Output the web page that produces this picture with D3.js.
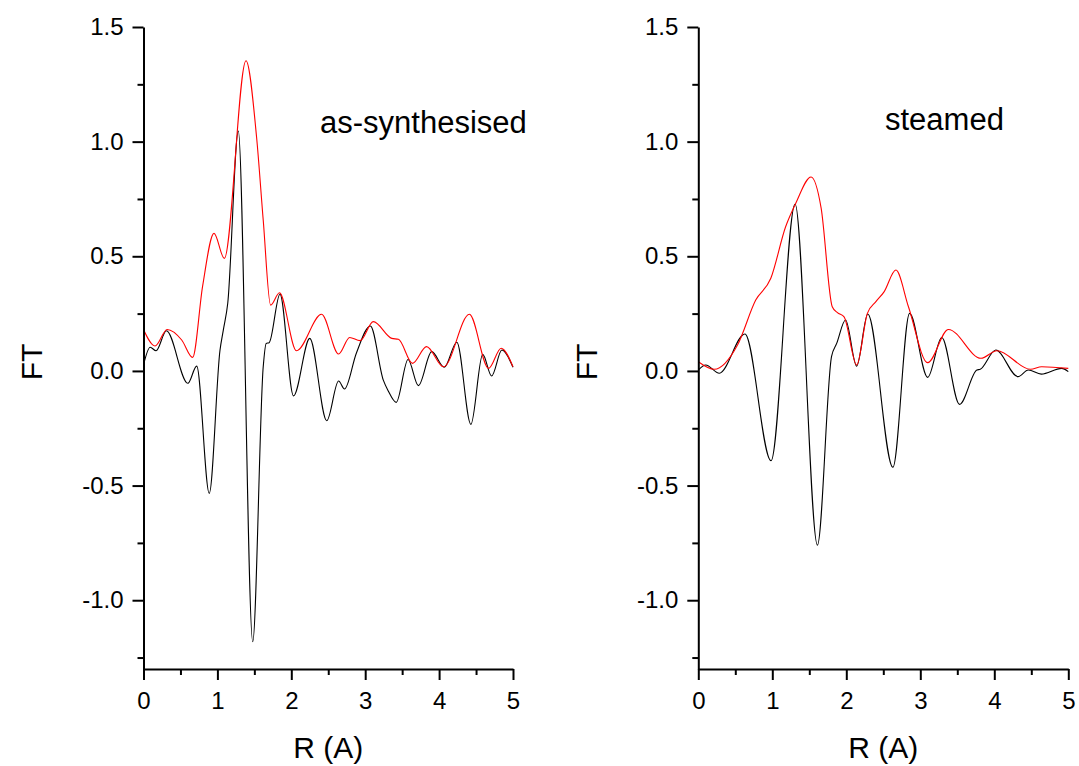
<!DOCTYPE html>
<html><head><meta charset="utf-8">
<script src="https://cdn.jsdelivr.net/npm/d3@7"></script>
<style>
body{margin:0;background:#fff}
text{font-family:"Liberation Sans",Arial,sans-serif;fill:#000}
</style>
</head><body>
<svg id="chart" width="1079" height="766"></svg>
<script>
// ---- tick values ----
const xTicks = [0, 1, 2, 3, 4, 5];
const xMinorTicks = [0.5, 1.5, 2.5, 3.5, 4.5];
const yTicks = [-1.0, -0.5, 0.0, 0.5, 1.0, 1.5];
const yMinorTicks = [-1.25, -0.75, -0.25, 0.25, 0.75, 1.25];
const panelTitles = ["as-synthesised", "steamed"];
const xLabel = "R (A)";
const yLabel = "FT";

// ---- as-synthesised: black (real part) ----
const asBlackR = [0, 0.09, 0.17, 0.31, 0.60, 0.72, 0.89, 1.035, 1.08, 1.14, 1.283, 1.478, 1.62, 1.66, 1.70, 1.847, 2.03, 2.25, 2.48, 2.64, 2.72, 2.88, 3.07, 3.245, 3.31, 3.42, 3.58, 3.72, 3.90, 4.07, 4.24, 4.43, 4.59, 4.71, 4.85, 5.0];
const asBlackFT = [0.026, 0.103, 0.088, 0.175, -0.054, 0.021, -0.534, 0.09, 0.178, 0.295, 1.046, -1.181, 0.018, 0.12, 0.123, 0.335, -0.109, 0.142, -0.217, -0.044, -0.079, 0.077, 0.196, -0.04, -0.086, -0.137, 0.05, -0.064, 0.084, 0.016, 0.125, -0.233, 0.072, -0.022, 0.091, 0.016];
// ---- as-synthesised: red (magnitude) ----
const asRedR = [0, 0.156, 0.32, 0.517, 0.665, 0.80, 0.954, 1.094, 1.387, 1.53, 1.62, 1.72, 1.84, 2.07, 2.41, 2.64, 2.79, 2.93, 3.11, 3.36, 3.45, 3.64, 3.83, 4.06, 4.41, 4.67, 4.84, 5.0];
const asRedFT = [0.181, 0.109, 0.181, 0.135, 0.059, 0.37, 0.600, 0.491, 1.353, 1.02, 0.658, 0.287, 0.341, 0.088, 0.247, 0.074, 0.146, 0.132, 0.215, 0.142, 0.138, 0.033, 0.106, 0.018, 0.247, 0.011, 0.099, 0.018];

// ---- steamed: black ----
const stBlackR = [0, 0.1, 0.284, 0.63, 0.983, 1.308, 1.61, 1.80, 1.87, 1.99, 2.14, 2.29, 2.63, 2.855, 3.10, 3.29, 3.53, 3.765, 3.81, 4.02, 4.32, 4.46, 4.635, 4.91, 5.0];
const stBlackFT = [0.004, 0.026, -0.01, 0.161, -0.392, 0.728, -0.76, 0.062, 0.12, 0.222, 0.021, 0.248, -0.42, 0.251, -0.028, 0.146, -0.146, 0.004, 0.007, 0.091, -0.025, 0.004, -0.014, 0.011, -0.003];
// ---- steamed: red ----
const stRedR = [0, 0.216, 0.53, 0.776, 0.98, 1.18, 1.317, 1.524, 1.66, 1.81, 1.88, 1.97, 2.14, 2.285, 2.40, 2.51, 2.67, 2.84, 3.10, 3.38, 3.82, 4.035, 4.49, 4.64, 5.0];
const stRedFT = [0.04, 0.007, 0.113, 0.309, 0.404, 0.629, 0.731, 0.846, 0.71, 0.28, 0.254, 0.236, 0.026, 0.251, 0.302, 0.345, 0.44, 0.28, 0.036, 0.181, 0.055, 0.088, 0.007, 0.018, 0.011];

const series = [
  [ {r: asBlackR, v: asBlackFT, color: "#000000"}, {r: asRedR, v: asRedFT, color: "#ff0000"} ],
  [ {r: stBlackR, v: stBlackFT, color: "#000000"}, {r: stRedR, v: stRedFT, color: "#ff0000"} ]
];

// ---- layout ----
const panels = [
  {left: 143.5, right: 513, ylabX: 31, titleX: 320, titleY: 133},
  {left: 698.3, right: 1068.3, ylabX: 586, titleX: 885, titleY: 130}
];
const plotTop = 27, plotBottom = 669;
const yFmt = d => d3.format(".1f")(d).replace("\u2212", "-");

const svg = d3.select("#chart");
svg.append("rect").attr("width", 1079).attr("height", 766).attr("fill", "#fff");

panels.forEach((p, i) => {
  const x = d3.scaleLinear().domain([0, 5]).range([p.left, p.right]);
  const y = d3.scaleLinear().domain([-1.3, 1.5]).range([plotBottom, plotTop]);
  const g = svg.append("g");

  // curves
  series[i].forEach(s => {
    const pts = s.r.map((r, k) => [r, s.v[k]]);
    g.append("path")
      .datum(pts)
      .attr("fill", "none")
      .attr("stroke", s.color)
      .attr("stroke-width", 1.1)
      .attr("d", d3.line().x(d => x(d[0])).y(d => y(d[1])).curve(d3.curveMonotoneX));
  });

  // y axis
  g.append("g").attr("transform", `translate(${p.left},0)`)
    .call(d3.axisLeft(y).tickValues(yTicks).tickSize(11).tickSizeOuter(0).tickPadding(9).tickFormat(yFmt));
  g.append("g").attr("transform", `translate(${p.left},0)`)
    .call(d3.axisLeft(y).tickValues(yMinorTicks).tickSize(6).tickFormat("")).select(".domain").remove();
  // x axis
  g.append("g").attr("transform", `translate(0,${plotBottom})`)
    .call(d3.axisBottom(x).tickValues(xTicks).tickSize(11).tickSizeOuter(0).tickPadding(12).tickFormat(d3.format("d")));
  g.append("g").attr("transform", `translate(0,${plotBottom})`)
    .call(d3.axisBottom(x).tickValues(xMinorTicks).tickSize(6).tickFormat("")).select(".domain").remove();

  g.selectAll(".domain, .tick line").attr("stroke", "#000").attr("stroke-width", 2);
  g.selectAll(".tick text").attr("font-size", 24).attr("font-family", "Liberation Sans, Arial, sans-serif").attr("fill", "#000");

  // labels
  g.append("text").attr("x", (p.left + p.right) / 2).attr("y", 758)
    .attr("text-anchor", "middle").attr("font-size", 30).text(xLabel);
  g.append("text").attr("transform", `translate(${p.ylabX},362) rotate(-90)`)
    .attr("text-anchor", "middle").attr("dy", "0.36em").attr("font-size", 30).text(yLabel);
  g.append("text").attr("x", p.titleX).attr("y", p.titleY)
    .attr("font-size", 31).text(panelTitles[i]);
});
</script>
</body></html>
